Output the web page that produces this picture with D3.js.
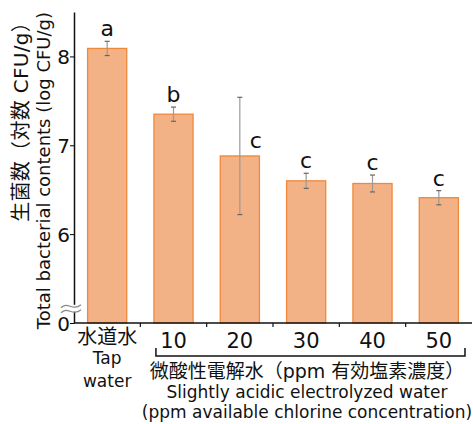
<!DOCTYPE html>
<html>
<head>
<meta charset="utf-8">
<script src="https://cdn.jsdelivr.net/npm/d3@7/dist/d3.min.js"></script>
<style>
body { margin: 0; background: #fff; }
text { font-family: "DejaVu Sans", "Noto Sans CJK JP", sans-serif; fill: #111; }
</style>
</head>
<body>
<svg id="chart" width="473" height="424"></svg>
<script>
// data
const categories = ["水道水", "10", "20", "30", "40", "50"];
const means = [8.09, 7.35, 6.88, 6.60, 6.57, 6.41];
const errors = [0.08, 0.08, 0.66, 0.085, 0.095, 0.08];
const letters = ["a", "b", "c", "c", "c", "c"];
const yTicks = [5, 6, 7, 8];
const yTickLabels = ["0", "6", "7", "8"];

const svg = d3.select("#chart");
const m = { top: 12, right: 1, bottom: 101, left: 74 };
const W = +svg.attr("width"), H = +svg.attr("height");

const x = d3.scaleBand().domain(categories).range([m.left, W - m.right]).paddingInner(0.41).paddingOuter(0.205);
const y = d3.scaleLinear().domain([5, 8.5]).range([H - m.bottom, m.top]);

// bars
svg.append("g").selectAll("rect").data(means).enter().append("rect")
    .attr("x", (d, i) => x(categories[i]))
    .attr("y", d => y(d))
    .attr("width", x.bandwidth())
    .attr("height", d => y(5) - y(d))
    .attr("fill", "#f3b286")
    .attr("stroke", "#f0883a")
    .attr("stroke-width", 1.3);

// error bars
const eb = svg.append("g").attr("stroke", "#9a9a9a").attr("stroke-width", 1.2);
means.forEach((d, i) => {
    const cx = x(categories[i]) + x.bandwidth() / 2;
    eb.append("line").attr("x1", cx).attr("x2", cx).attr("y1", y(d + errors[i])).attr("y2", y(d - errors[i]));
    [d + errors[i], d - errors[i]].forEach(v => {
        eb.append("line").attr("x1", cx - 2.5).attr("x2", cx + 2.5).attr("y1", y(v)).attr("y2", y(v)).attr("stroke", "#666");
    });
});

// significance letters
svg.append("g").selectAll("text").data(letters).enter().append("text")
    .attr("x", (d, i) => x(categories[i]) + x.bandwidth() / 2 + (errors[i] > 0.3 ? 16 : 0))
    .attr("y", (d, i) => errors[i] > 0.3 ? y(means[i]) - 8 : y(means[i] + errors[i]) - 5)
    .attr("text-anchor", "middle")
    .attr("font-size", 22)
    .text(d => d);

// y axis
const yAxis = svg.append("g").attr("transform", "translate(" + m.left + ",0)")
    .call(d3.axisLeft(y).tickValues(yTicks).tickFormat((d, i) => yTickLabels[i]).tickSize(4).tickSizeOuter(0));
yAxis.select(".domain").attr("stroke", "#111").attr("stroke-width", 1.5);
yAxis.selectAll("text").attr("font-size", 20).attr("font-family", "DejaVu Sans, sans-serif").attr("dx", 3).attr("dy", "0.36em");

// x axis
const xAxis = svg.append("g").attr("transform", "translate(0," + y(5) + ")");
xAxis.append("line").attr("x1", m.left).attr("x2", W - m.right).attr("stroke", "#111").attr("stroke-width", 1.5);
const step = x.step();
categories.slice(1).forEach(c => {
    const bx = x(c) - (step - x.bandwidth()) / 2;
    xAxis.append("line").attr("x1", bx).attr("x2", bx).attr("y1", 0).attr("y2", 4).attr("stroke", "#111").attr("stroke-width", 1.2);
});
categories.forEach((c, i) => {
    xAxis.append("text").attr("x", x(c) + x.bandwidth() / 2).attr("y", i === 0 ? 21 : 25)
        .attr("text-anchor", "middle").attr("font-size", i === 0 ? 20 : 21).text(c);
});
const tx = x(categories[0]) + x.bandwidth() / 2;
xAxis.append("text").attr("x", tx).attr("y", 41).attr("text-anchor", "middle").attr("font-size", 17).text("Tap");
xAxis.append("text").attr("x", tx).attr("y", 64).attr("text-anchor", "middle").attr("font-size", 17).text("water");

// bracket under the electrolyzed water group
const bx0 = x(categories[1]) + 2, bx1 = W - 8;
xAxis.append("path").attr("d", "M" + bx0 + ",25V33H" + bx1 + "V25")
    .attr("fill", "none").attr("stroke", "#111").attr("stroke-width", 1.5);
const gc = 307;
xAxis.append("text").attr("x", gc).attr("y", 55).attr("text-anchor", "middle").attr("font-size", 19).text("微酸性電解水（ppm 有効塩素濃度）");
xAxis.append("text").attr("x", gc).attr("y", 75).attr("text-anchor", "middle").attr("font-size", 17).text("Slightly acidic electrolyzed water");
xAxis.append("text").attr("x", gc).attr("y", 95).attr("text-anchor", "middle").attr("font-size", 17).text("(ppm available chlorine concentration)");

// axis break
const by = y(5.16);
const wave = (yy) => "M" + (m.left - 13) + "," + (yy + 2) + "C" + (m.left - 6) + "," + (yy - 5) + " " + (m.left - 2) + "," + (yy + 6) + " " + (m.left + 7) + "," + (yy - 1);
svg.append("rect").attr("x", m.left - 2).attr("y", by - 4).attr("width", 4).attr("height", 7).attr("fill", "#fff");
[by - 3, by + 2].forEach(yy => {
    svg.append("path").attr("d", wave(yy)).attr("fill", "none").attr("stroke", "#888").attr("stroke-width", 1.2);
});

// y label
const yl = svg.append("g").attr("transform", "translate(0," + m.top + ") rotate(-90)");
yl.append("text").attr("x", 0).attr("y", 28).attr("text-anchor", "end").attr("font-size", 20).attr("letter-spacing", 0.3).text("生菌数（対数 CFU/g）");
yl.append("text").attr("x", 0).attr("y", 50).attr("text-anchor", "end").attr("font-size", 18).text("Total bacterial contents (log CFU/g)");
</script>
</body>
</html>
